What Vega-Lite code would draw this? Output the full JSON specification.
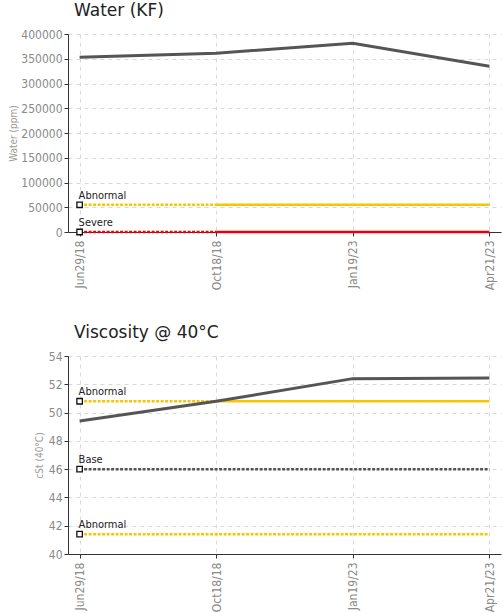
{
  "$schema": "https://vega.github.io/schema/vega-lite/v6.json",
  "padding": {"left": 8, "top": 2, "right": 1, "bottom": 4},
  "background": "white",
  "spacing": 34,
  "config": {
    "view": {"stroke": null},
    "axis": {
      "labelFont": "DejaVu Sans Condensed, Roboto Condensed, Liberation Sans",
      "labelFontSize": 12,
      "labelColor": "#8a8a8a",
      "labelOverlap": false,
      "titleFont": "DejaVu Sans Condensed, Liberation Sans",
      "titleFontSize": 10,
      "titleColor": "#9a9a9a",
      "titleFontWeight": "normal",
      "domainColor": "#333",
      "tickColor": "#333",
      "tickSize": 4,
      "gridColor": "#d9d9d9",
      "gridDash": [4, 4]
    },
    "title": {"font": "DejaVu Sans", "fontSize": 17, "fontWeight": "normal", "color": "#222", "anchor": "start", "frame": "group", "dx": 6, "offset": 8}
  },
  "datasets": {
    "water": [
      {"date": "Jun29/18", "value": 353000},
      {"date": "Oct18/18", "value": 361000},
      {"date": "Jan19/23", "value": 381500},
      {"date": "Apr21/23", "value": 335000}
    ],
    "waterLimits": [
      {"limit": "Abnormal", "seg": "Abnormal-a", "kind": "a", "date": "Jun29/18", "value": 55000},
      {"limit": "Abnormal", "seg": "Abnormal-a", "kind": "a", "date": "Oct18/18", "value": 55000},
      {"limit": "Abnormal", "seg": "Abnormal-b", "kind": "b", "date": "Oct18/18", "value": 55000},
      {"limit": "Abnormal", "seg": "Abnormal-b", "kind": "b", "date": "Jan19/23", "value": 55000},
      {"limit": "Abnormal", "seg": "Abnormal-b", "kind": "b", "date": "Apr21/23", "value": 55000},
      {"limit": "Severe", "seg": "Severe-a", "kind": "a", "date": "Jun29/18", "value": 0},
      {"limit": "Severe", "seg": "Severe-a", "kind": "a", "date": "Oct18/18", "value": 0},
      {"limit": "Severe", "seg": "Severe-b", "kind": "b", "date": "Oct18/18", "value": 0},
      {"limit": "Severe", "seg": "Severe-b", "kind": "b", "date": "Jan19/23", "value": 0},
      {"limit": "Severe", "seg": "Severe-b", "kind": "b", "date": "Apr21/23", "value": 0}
    ],
    "visc": [
      {"date": "Jun29/18", "value": 49.4},
      {"date": "Oct18/18", "value": 50.8},
      {"date": "Jan19/23", "value": 52.4},
      {"date": "Apr21/23", "value": 52.45}
    ],
    "viscLimits": [
      {"limit": "Abnormal", "seg": "AbnHi-a", "kind": "a", "date": "Jun29/18", "value": 50.8},
      {"limit": "Abnormal", "seg": "AbnHi-a", "kind": "a", "date": "Oct18/18", "value": 50.8},
      {"limit": "Abnormal", "seg": "AbnHi-b", "kind": "b", "date": "Oct18/18", "value": 50.8},
      {"limit": "Abnormal", "seg": "AbnHi-b", "kind": "b", "date": "Jan19/23", "value": 50.8},
      {"limit": "Abnormal", "seg": "AbnHi-b", "kind": "b", "date": "Apr21/23", "value": 50.8},
      {"limit": "Base", "seg": "Base-a", "kind": "a", "date": "Jun29/18", "value": 46},
      {"limit": "Base", "seg": "Base-a", "kind": "a", "date": "Oct18/18", "value": 46},
      {"limit": "Base", "seg": "Base-a", "kind": "a", "date": "Jan19/23", "value": 46},
      {"limit": "Base", "seg": "Base-a", "kind": "a", "date": "Apr21/23", "value": 46},
      {"limit": "Abnormal", "seg": "AbnLo-a", "kind": "a", "date": "Jun29/18", "value": 41.4},
      {"limit": "Abnormal", "seg": "AbnLo-a", "kind": "a", "date": "Oct18/18", "value": 41.4},
      {"limit": "Abnormal", "seg": "AbnLo-a", "kind": "a", "date": "Jan19/23", "value": 41.4},
      {"limit": "Abnormal", "seg": "AbnLo-a", "kind": "a", "date": "Apr21/23", "value": 41.4}
    ]
  },
  "resolve": {"scale": {"color": "shared", "strokeDash": "shared"}},
  "vconcat": [
    {
      "title": "Water (KF)",
      "width": 433,
      "height": 198,
      "encoding": {
        "x": {"field": "date", "type": "ordinal", "sort": null, "title": null,
          "scale": {"type": "point", "padding": 0.085},
          "axis": {"labelAngle": -90, "grid": true, "labelPadding": 4}},
        "y": {"field": "value", "type": "quantitative", "title": "Water (ppm)",
          "scale": {"domain": [0, 400000], "nice": false},
          "axis": {"values": [0, 50000, 100000, 150000, 200000, 250000, 300000, 350000, 400000], "tickCount": 9, "labelOverlap": false, "format": "d", "grid": true, "titlePadding": 2}}
      },
      "layer": [
        {
          "data": {"name": "waterLimits"},
          "mark": {"type": "line", "strokeWidth": 2.5},
          "encoding": {
            "detail": {"field": "seg"},
            "color": {"field": "limit", "type": "nominal", "scale": {"domain": ["Abnormal", "Severe", "Base"], "range": ["#f7c600", "#e8000b", "#555555"]}, "legend": null},
            "strokeDash": {"field": "kind", "type": "nominal", "scale": {"domain": ["a", "b"], "range": [[3, 1.5], [1, 0]]}, "legend": null}
          }
        },
        {
          "data": {"name": "water"},
          "mark": {"type": "line", "color": "#555", "strokeWidth": 3}
        },
        {
          "data": {"name": "waterLimits"},
          "transform": [{"filter": "datum.date == 'Jun29/18' && datum.kind == 'a'"}],
          "mark": {"type": "point", "shape": "square", "filled": false, "fill": "white", "stroke": "#111", "strokeWidth": 1.3, "size": 30, "opacity": 1}
        },
        {
          "data": {"name": "waterLimits"},
          "transform": [{"filter": "datum.date == 'Jun29/18' && datum.kind == 'a'"}],
          "mark": {"type": "text", "align": "left", "baseline": "alphabetic", "dx": -1, "dy": -6, "font": "DejaVu Sans Condensed, Liberation Sans", "fontSize": 11, "color": "#222"},
          "encoding": {
            "text": {"field": "limit"}
          }
        }
      ]
    },
    {
      "title": "Viscosity @ 40°C",
      "width": 433,
      "height": 198,
      "encoding": {
        "x": {"field": "date", "type": "ordinal", "sort": null, "title": null,
          "scale": {"type": "point", "padding": 0.085},
          "axis": {"labelAngle": -90, "grid": true, "labelPadding": 4}},
        "y": {"field": "value", "type": "quantitative", "title": "cSt (40°C)",
          "scale": {"domain": [40, 54], "nice": false},
          "axis": {"values": [40, 42, 44, 46, 48, 50, 52, 54], "tickCount": 8, "labelOverlap": false, "grid": true, "titlePadding": 4}}
      },
      "layer": [
        {
          "data": {"name": "viscLimits"},
          "mark": {"type": "line", "strokeWidth": 2.5},
          "encoding": {
            "detail": {"field": "seg"},
            "color": {"field": "limit", "type": "nominal", "scale": {"domain": ["Abnormal", "Severe", "Base"], "range": ["#f7c600", "#e8000b", "#555555"]}, "legend": null},
            "strokeDash": {"field": "kind", "type": "nominal", "scale": {"domain": ["a", "b"], "range": [[3, 1.5], [1, 0]]}, "legend": null}
          }
        },
        {
          "data": {"name": "visc"},
          "mark": {"type": "line", "color": "#555", "strokeWidth": 3}
        },
        {
          "data": {"name": "viscLimits"},
          "transform": [{"filter": "datum.date == 'Jun29/18' && datum.kind == 'a'"}],
          "mark": {"type": "point", "shape": "square", "filled": false, "fill": "white", "stroke": "#111", "strokeWidth": 1.3, "size": 30, "opacity": 1}
        },
        {
          "data": {"name": "viscLimits"},
          "transform": [{"filter": "datum.date == 'Jun29/18' && datum.kind == 'a'"}],
          "mark": {"type": "text", "align": "left", "baseline": "alphabetic", "dx": -1, "dy": -6, "font": "DejaVu Sans Condensed, Liberation Sans", "fontSize": 11, "color": "#222"},
          "encoding": {
            "text": {"field": "limit"}
          }
        }
      ]
    }
  ]
}
